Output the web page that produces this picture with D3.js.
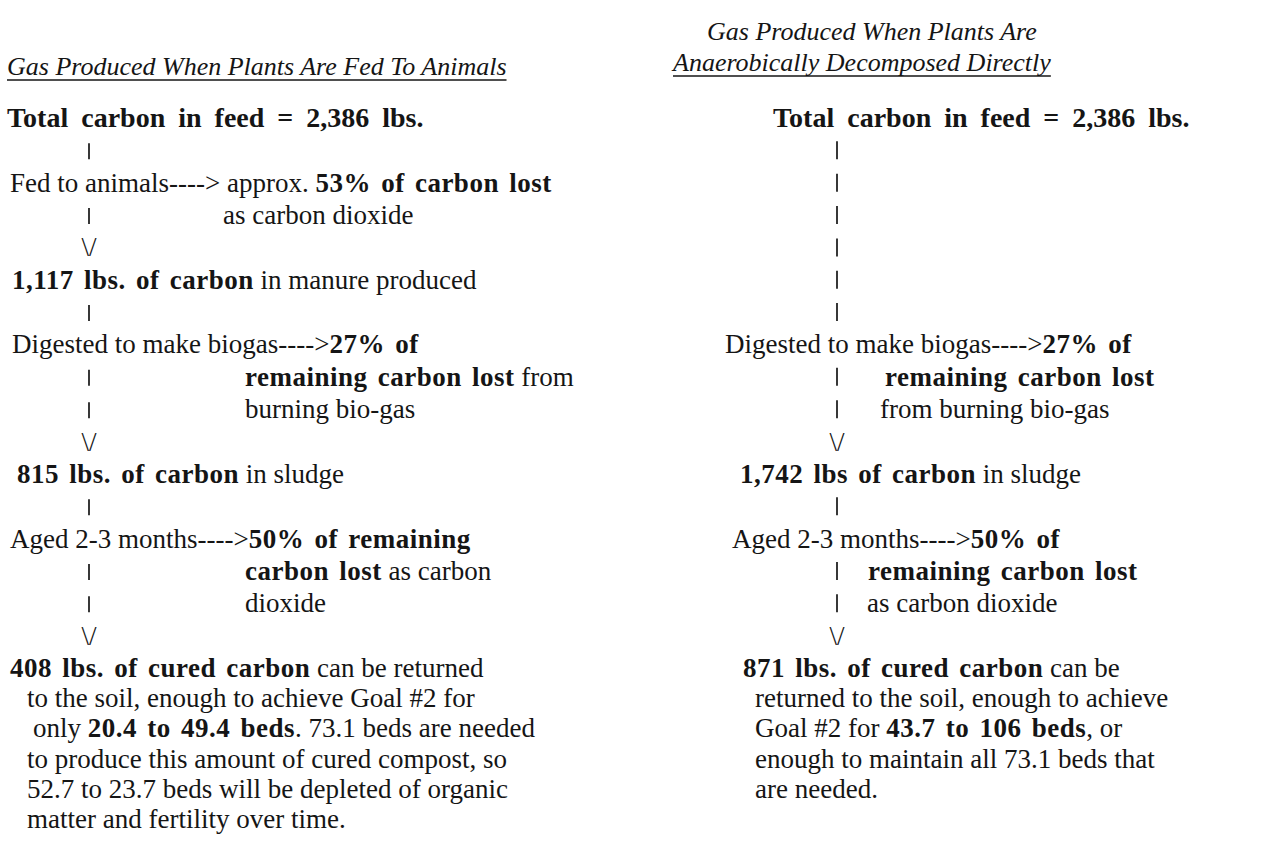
<!DOCTYPE html>
<html>
<head>
<meta charset="utf-8">
<script src="https://cdn.jsdelivr.net/npm/d3@7"></script>
<style>
  body { margin: 0; background: #fff; }
  text { font-family: "Liberation Serif", "Times New Roman", serif; fill: #151515; }
</style>
</head>
<body>
<div id="chart"></div>
<script>
// values
const titles = [
  ["Gas Produced When Plants Are Fed To Animals"],
  ["Gas Produced When Plants Are", "Anaerobically Decomposed Directly"]
];
const feedLbs = [2386, 2386];
const manureLbs = [1117];
const sludgeLbs = [815, 1742];
const curedLbs = [408, 871];
const lossPct = [53, 27, 50];          // fed to animals, biogas, aging
const bedsGoal = [[20.4, 49.4], [43.7, 106]];
const bedsNeeded = 73.1;
const bedsDepleted = [52.7, 23.7];

const fmt = d3.format(",");
const B = true, R = false;

// text of each column, one entry per printed line
const leftText = [
  [["Fed to animals----> approx. ", R], [`${lossPct[0]}% of carbon lost`, B]],
  [["as carbon dioxide", R]],
  [[`${fmt(manureLbs[0])} lbs. of carbon`, B], [" in manure produced", R]],
  [["Digested to make biogas---->", R], [`${lossPct[1]}% of`, B]],
  [["remaining carbon lost", B], [" from", R]],
  [["burning bio-gas", R]],
  [[`${sludgeLbs[0]} lbs. of carbon`, B], [" in sludge", R]],
  [["Aged 2-3 months---->", R], [`${lossPct[2]}% of remaining`, B]],
  [["carbon lost", B], [" as carbon", R]],
  [["dioxide", R]],
  [[`${curedLbs[0]} lbs. of cured carbon`, B], [" can be returned", R]],
  [["to the soil, enough to achieve Goal #2 for", R]],
  [["only ", R], [`${bedsGoal[0][0]} to ${bedsGoal[0][1]} beds`, B], [`. ${bedsNeeded} beds are needed`, R]],
  [["to produce this amount of cured compost, so", R]],
  [[`${bedsDepleted[0]} to ${bedsDepleted[1]} beds will be depleted of organic`, R]],
  [["matter and fertility over time.", R]]
];
const rightText = [
  [["Digested to make biogas---->", R], [`${lossPct[1]}% of`, B]],
  [["remaining carbon lost", B]],
  [["from burning bio-gas", R]],
  [[`${fmt(sludgeLbs[1])} lbs of carbon`, B], [" in sludge", R]],
  [["Aged 2-3 months---->", R], [`${lossPct[2]}% of`, B]],
  [["remaining carbon lost", B]],
  [["as carbon dioxide", R]],
  [[`${curedLbs[1]} lbs. of cured carbon`, B], [" can be", R]],
  [["returned to the soil, enough to achieve", R]],
  [["Goal #2 for ", R], [`${bedsGoal[1][0]} to ${bedsGoal[1][1]} beds`, B], [", or", R]],
  [[`enough to maintain all ${bedsNeeded} beds that`, R]],
  [["are needed.", R]]
];

// layout: row index and left edge of every line
const leftRows = [2, 3, 5, 7, 8, 9, 11, 13, 14, 15, 17, 18, 19, 20, 21, 22];
const leftX    = [10, 223, 12, 12, 245, 245, 17, 10, 245, 245, 10, 27, 33, 27, 27, 27];
const rightRows = [7, 8, 9, 11, 13, 14, 15, 17, 18, 19, 20, 21];
const rightX    = [725, 885, 880, 740, 732, 868, 867, 743, 755, 755, 755, 755];
const leftPipes = [1, 3, 6, 8, 9, 12, 14, 15];
const leftArrows = [4, 10, 16];
const rightPipes = [1, 2, 3, 4, 5, 6, 8, 9, 12, 14, 15];
const rightArrows = [10, 16];

const width = 1263, height = 841;
const fontSize = 27;

const svg = d3.select("#chart").append("svg")
    .attr("width", width)
    .attr("height", height);

const rowY = d3.scaleLinear().domain([0, 17, 22]).range([127, 677, 828]);

function drawLines(texts, rows, xs) {
  texts.forEach((segs, i) => {
    const t = svg.append("text")
        .attr("x", xs[i])
        .attr("y", rowY(rows[i]))
        .style("font-size", fontSize + "px");
    t.selectAll("tspan")
      .data(segs)
      .join("tspan")
        .attr("font-weight", d => d[1] ? "bold" : null)
        .style("letter-spacing", d => d[1] ? "0.5px" : null)
        .style("word-spacing", d => d[1] ? "3px" : null)
        .text(d => d[0]);
  });
}

function drawFlow(pipes, arrows, x, len) {
  svg.append("g").selectAll("line")
    .data(pipes)
    .join("line")
      .attr("x1", x).attr("x2", x)
      .attr("y1", d => rowY(d) - len)
      .attr("y2", d => rowY(d))
      .attr("stroke", "#151515")
      .attr("stroke-width", 1.7);
  svg.append("g").selectAll("text")
    .data(arrows)
    .join("text")
      .attr("x", x)
      .attr("y", d => rowY(d))
      .attr("text-anchor", "middle")
      .style("font-size", fontSize + "px")
      .text("\\/");
}

// titles, italic and underlined
function drawTitle(lines, x0, y0, step) {
  lines.forEach((s, i) => {
    const t = svg.append("text")
        .attr("x", x0[i])
        .attr("y", y0 + i * step)
        .style("font-size", "26px")
        .style("font-style", "italic")
        .text(s);
    if (i === lines.length - 1) {
      const w = t.node().getComputedTextLength();
      svg.append("line")
          .attr("x1", x0[i]).attr("x2", x0[i] + w)
          .attr("y1", y0 + i * step + 5).attr("y2", y0 + i * step + 5)
          .attr("stroke", "#151515")
          .attr("stroke-width", 1.5);
    }
  });
}
drawTitle(titles[0], [7], 75, 0);
drawTitle(titles[1], [707, 673], 40, 31);

// totals
[7, 773].forEach((x, i) => {
  svg.append("text")
      .attr("x", x)
      .attr("y", rowY(0))
      .attr("font-weight", "bold")
      .style("font-size", "28px")
      .style("word-spacing", "6px")
      .text(`Total carbon in feed = ${fmt(feedLbs[i])} lbs.`);
});

drawLines(leftText, leftRows, leftX);
drawLines(rightText, rightRows, rightX);
drawFlow(leftPipes, leftArrows, 89, 16);
drawFlow(rightPipes, rightArrows, 837, 18);
</script>
</body>
</html>
